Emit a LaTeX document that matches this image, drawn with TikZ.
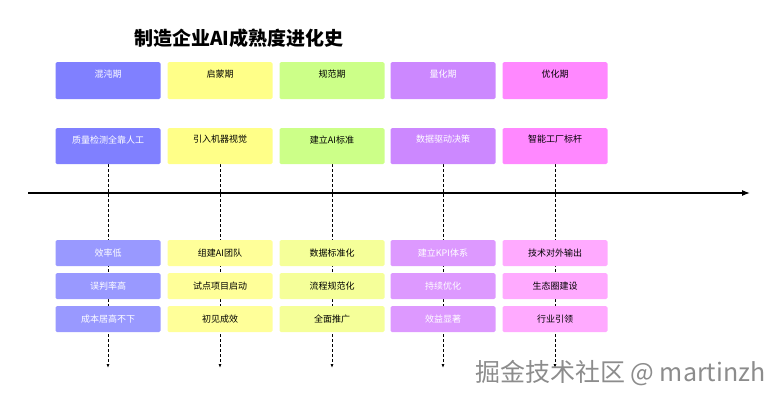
\documentclass[tikz,border=0pt]{standalone}
\usepackage{fontspec}
\newfontfamily\cjk{Noto Sans CJK SC}
\usetikzlibrary{arrows.meta}
\begin{document}
\begin{tikzpicture}[x=1pt,y=-1pt,font=\cjk\fontsize{9}{10}\selectfont,
 box/.style={minimum width=105pt,anchor=north,inner sep=0pt,rounded corners=1.5pt},
 hd/.style={box,minimum height=37pt,text depth=14pt},
 ev/.style={box,minimum height=36pt,text depth=14pt},
 sm/.style={box,minimum height=26pt},
 dl/.style={densely dashed,line width=0.8pt,-{Latex[length=4pt]}}]
\useasboundingbox (0,0) rectangle (784,401);
\node[font=\cjk\bfseries\fontsize{19}{21}\selectfont] (title) at (239,38) {制造企业AI成熟度进化史};
\definecolor{c1}{HTML}{8080FF}\definecolor{c1l}{HTML}{9999FF}
\definecolor{c2}{HTML}{FFFF88}\definecolor{c2l}{HTML}{FFFF99}
\definecolor{c3}{HTML}{CCFF88}\definecolor{c3l}{HTML}{F5FF99}
\definecolor{c4}{HTML}{CC88FF}\definecolor{c4l}{HTML}{DD99FF}
\definecolor{c5}{HTML}{FF88FF}\definecolor{c5l}{HTML}{FFAAFF}
\draw[line width=1.2pt,-{Latex[length=8pt]}] (28,193) -- (750,193);
\foreach \i/\x/\h/\e/\a/\b/\c/\tc/\lc in {
 1/108/混沌期/质量检测全靠人工/效率低/误判率高/成本居高不下/white/c1l,
 2/220/启蒙期/引入机器视觉/组建AI团队/试点项目启动/初见成效/black/c2l,
 3/332/规范期/建立AI标准/数据标准化/流程规范化/全面推广/black/c3l,
 4/443/量化期/数据驱动决策/建立KPI体系/持续优化/效益显著/white/c4l,
 5/555/优化期/智能工厂标杆/技术对外输出/生态圈建设/行业引领/black/c5l}{
 \coordinate (end\i) at (\x,368);
 \draw[dl] (\x,164) -- (end\i);
 \node[hd,fill=c\i,text=\tc] (h\i) at (\x,62) {\h};
 \node[ev,fill=c\i,text=\tc] (e\i) at (\x,128) {\e};
 \node[sm,fill=\lc,text=\tc] (a\i) at (\x,240) {\a};
 \node[sm,fill=\lc,text=\tc] (b\i) at (\x,273) {\b};
 \node[sm,fill=\lc,text=\tc] (c\i) at (\x,306) {\c};
}
\node[anchor=east,text=black!45,font=\cjk\fontsize{25}{27}\selectfont] (wm) at (769,373) {掘金技术社区 @ martinzh};
\end{tikzpicture}
\end{document}
